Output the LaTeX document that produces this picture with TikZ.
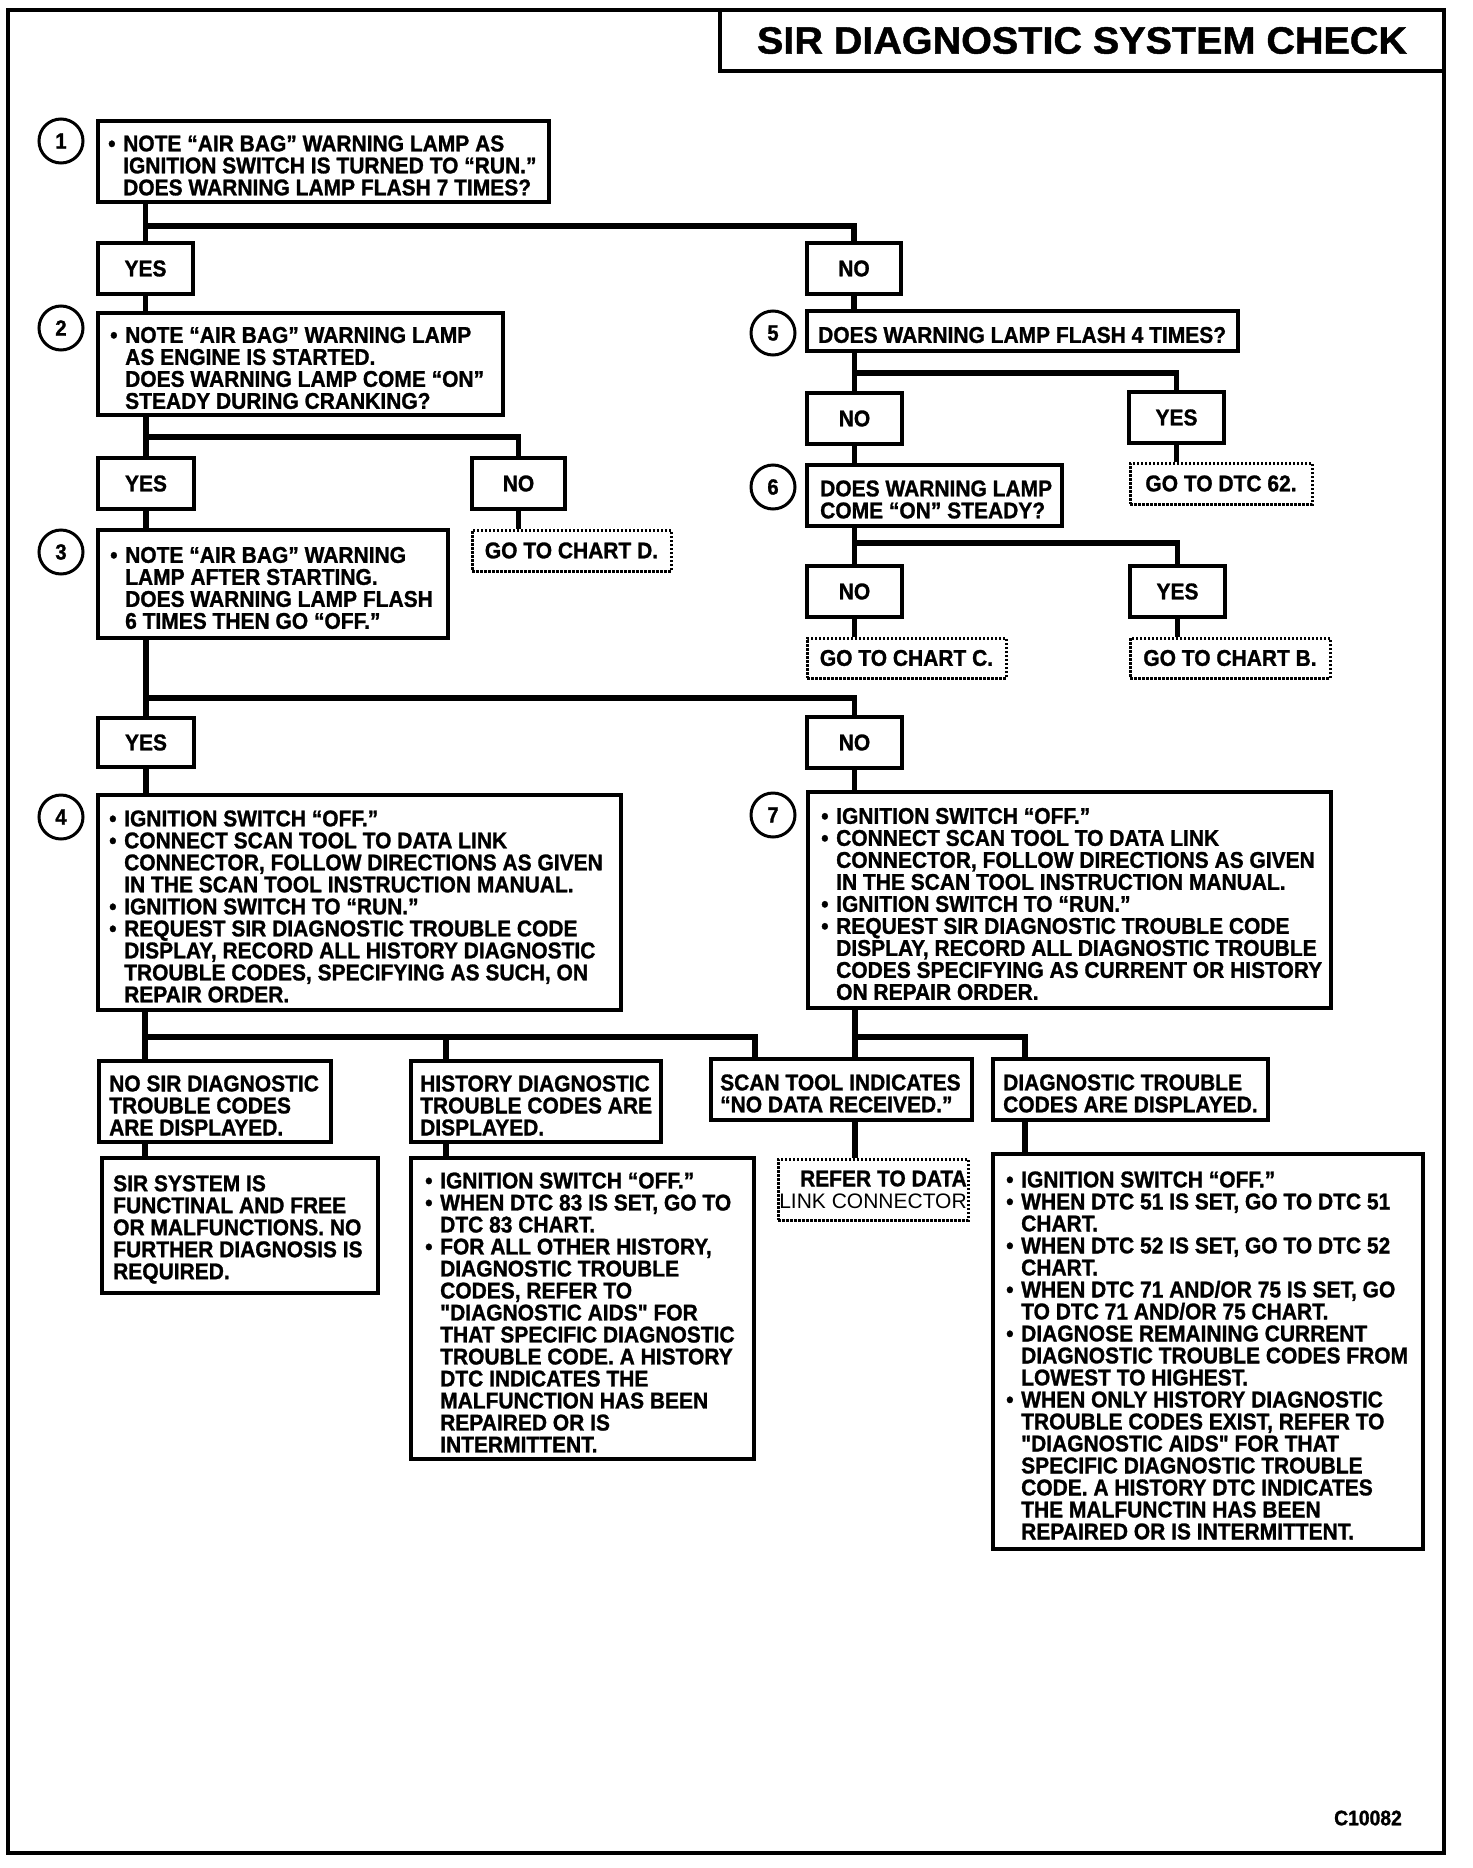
\documentclass[tikz,border=0pt]{standalone}
\usepackage{fontspec}
\setmainfont{Liberation Sans}[FakeStretch=0.92, Ligatures=TeXOff, BoldFeatures={FakeBold=1.2}]
\newfontfamily\titlefont{Liberation Sans}[FakeStretch=1.04, BoldFeatures={FakeBold=1.2}]
\newfontfamily\plainfont{Liberation Sans}[Ligatures=TeXOff]
\newcommand\bodyfont{\fontsize{22.8}{22}\selectfont\bfseries}
\newcommand\bu{\makebox[15pt][l]{•}}
\newcommand\ct{\hspace*{15pt}}
\tikzset{
 box/.style={draw, line width=4pt, inner sep=0pt, font=\bodyfont, align=center},
 dbox/.style={draw, line width=3pt, dash pattern=on 2.5pt off 1.5pt, inner sep=0pt, font=\bodyfont, align=center},
 txt/.style={anchor=west, align=left, inner sep=0pt, font=\bodyfont, yshift=-4pt},
 conn/.style={line width=5.5pt},
 num/.style={circle, draw, line width=3pt, minimum size=44pt, inner sep=0pt, font=\fontsize{22}{22}\selectfont\bfseries},
}
\newcommand\mybox[7][box]{\node[#1, minimum width={#5-#3}, minimum height={#6-#4}] (#2) at ({(#3+#5)/2},{(#4+#6)/2}) {#7};}
\begin{document}
\begin{tikzpicture}[x=1pt,y=-1pt]
\useasboundingbox (0,0) rectangle (1472,1868);
\draw[line width=4pt] (8,10) rectangle (1444,1853);
\node[draw, line width=4pt, minimum width=724, minimum height=61, inner sep=0pt, font=\titlefont\bfseries\fontsize{38}{38}\selectfont] (title) at (1082,40.5) {SIR DIAGNOSTIC SYSTEM CHECK};

% circles
\node[num] (c1) at (61,141) {1};
\node[num] (c2) at (61,328) {2};
\node[num] (c3) at (61,552) {3};
\node[num] (c4) at (61,817) {4};
\node[num] (c5) at (773,333) {5};
\node[num] (c6) at (773,487) {6};
\node[num] (c7) at (773,815) {7};

% left column
\mybox{b1}{98}{121}{549}{202}{}
\node[txt] (t1) at ([xshift=12pt]b1.west) {\bu NOTE “AIR BAG” WARNING LAMP AS\\\ct IGNITION SWITCH IS TURNED TO “RUN.”\\\ct DOES WARNING LAMP FLASH 7 TIMES?};
\mybox{y1}{98}{243}{193}{294}{YES}
\mybox{n1}{807}{243}{901}{294}{NO}
\mybox{b2}{98}{313}{503}{415}{}
\node[txt] (t2) at ([xshift=14pt]b2.west) {\bu NOTE “AIR BAG” WARNING LAMP\\\ct AS ENGINE IS STARTED.\\\ct DOES WARNING LAMP COME “ON”\\\ct STEADY DURING CRANKING?};
\mybox{y2}{98}{458}{194}{509}{YES}
\mybox{n2}{472}{458}{565}{509}{NO}
\mybox[dbox]{gd}{472}{530}{671}{571}{GO TO CHART D.}
\mybox{b3}{98}{530}{448}{638}{}
\node[txt] (t3) at ([xshift=14pt]b3.west) {\bu NOTE “AIR BAG” WARNING\\\ct LAMP AFTER STARTING.\\\ct DOES WARNING LAMP FLASH\\\ct 6 TIMES THEN GO “OFF.”};
\mybox{y3}{98}{718}{194}{767}{YES}
\mybox{n3}{807}{717}{902}{768}{NO}
\mybox{b4}{98}{795}{621}{1010}{}
\node[txt] (t4) at ([xshift=13pt]b4.west) {\bu IGNITION SWITCH “OFF.”\\\bu CONNECT SCAN TOOL TO DATA LINK\\\ct CONNECTOR, FOLLOW DIRECTIONS AS GIVEN\\\ct IN THE SCAN TOOL INSTRUCTION MANUAL.\\\bu IGNITION SWITCH TO “RUN.”\\\bu REQUEST SIR DIAGNOSTIC TROUBLE CODE\\\ct DISPLAY, RECORD ALL HISTORY DIAGNOSTIC\\\ct TROUBLE CODES, SPECIFYING AS SUCH, ON\\\ct REPAIR ORDER.};

% bottom row
\mybox{nosir}{99}{1061}{331}{1142}{}
\node[txt] (tnosir) at ([xshift=12pt]nosir.west) {NO SIR DIAGNOSTIC\\TROUBLE CODES\\ARE DISPLAYED.};
\mybox{hist}{411}{1061}{661}{1142}{}
\node[txt] (thist) at ([xshift=11pt]hist.west) {HISTORY DIAGNOSTIC\\TROUBLE CODES ARE\\DISPLAYED.};
\mybox{scan}{711}{1059}{972}{1120}{}
\node[txt] (tscan) at ([xshift=11pt]scan.west) {SCAN TOOL INDICATES\\“NO DATA RECEIVED.”};
\mybox{dtc}{993}{1059}{1268}{1120}{}
\node[txt] (tdtc) at ([xshift=12pt]dtc.west) {DIAGNOSTIC TROUBLE\\CODES ARE DISPLAYED.};
\mybox{sirsys}{102}{1158}{378}{1293}{}
\node[txt] (tsirsys) at ([xshift=13pt]sirsys.west) {SIR SYSTEM IS\\FUNCTINAL AND FREE\\OR MALFUNCTIONS. NO\\FURTHER DIAGNOSIS IS\\REQUIRED.};
\mybox{histd}{411}{1158}{754}{1459}{}
\node[txt] (thistd) at ([xshift=16pt]histd.west) {\bu IGNITION SWITCH “OFF.”\\\bu WHEN DTC 83 IS SET, GO TO\\\ct DTC 83 CHART.\\\bu FOR ALL OTHER HISTORY,\\\ct DIAGNOSTIC TROUBLE\\\ct CODES, REFER TO\\\ct "DIAGNOSTIC AIDS" FOR\\\ct THAT SPECIFIC DIAGNOSTIC\\\ct TROUBLE CODE. A HISTORY\\\ct DTC INDICATES THE\\\ct MALFUNCTION HAS BEEN\\\ct REPAIRED OR IS\\\ct INTERMITTENT.};
\mybox[dbox,align=right]{refer}{778}{1159}{968}{1220}{REFER TO DATA\\{\plainfont\mdseries\fontsize{21}{22}\selectfont LINK CONNECTOR}}
\mybox{dtcd}{993}{1154}{1423}{1549}{}
\node[txt] (tdtcd) at ([xshift=15pt]dtcd.west) {\bu IGNITION SWITCH “OFF.”\\\bu WHEN DTC 51 IS SET, GO TO DTC 51\\\ct CHART.\\\bu WHEN DTC 52 IS SET, GO TO DTC 52\\\ct CHART.\\\bu WHEN DTC 71 AND/OR 75 IS SET, GO\\\ct TO DTC 71 AND/OR 75 CHART.\\\bu DIAGNOSE REMAINING CURRENT\\\ct DIAGNOSTIC TROUBLE CODES FROM\\\ct LOWEST TO HIGHEST.\\\bu WHEN ONLY HISTORY DIAGNOSTIC\\\ct TROUBLE CODES EXIST, REFER TO\\\ct "DIAGNOSTIC AIDS" FOR THAT\\\ct SPECIFIC DIAGNOSTIC TROUBLE\\\ct CODE. A HISTORY DTC INDICATES\\\ct THE MALFUNCTIN HAS BEEN\\\ct REPAIRED OR IS INTERMITTENT.};

% right column
\mybox{b5}{807}{311}{1238}{351}{}
\node[txt] (t5) at ([xshift=13pt]b5.west) {DOES WARNING LAMP FLASH 4 TIMES?};
\mybox{n5}{807}{393}{902}{444}{NO}
\mybox{y5}{1129}{392}{1224}{443}{YES}
\mybox[dbox]{g62}{1130}{463}{1312}{504}{GO TO DTC 62.}
\mybox{b6}{807}{465}{1062}{526}{}
\node[txt] (t6) at ([xshift=15pt]b6.west) {DOES WARNING LAMP\\COME “ON” STEADY?};
\mybox{n6}{807}{566}{902}{617}{NO}
\mybox{y6}{1130}{566}{1225}{617}{YES}
\mybox[dbox]{gc}{807}{638}{1006}{678}{GO TO CHART C.}
\mybox[dbox]{gb}{1130}{638}{1330}{678}{GO TO CHART B.}
\mybox{b7}{808}{792}{1331}{1008}{}
\node[txt] (t7) at ([xshift=15pt]b7.west) {\bu IGNITION SWITCH “OFF.”\\\bu CONNECT SCAN TOOL TO DATA LINK\\\ct CONNECTOR, FOLLOW DIRECTIONS AS GIVEN\\\ct IN THE SCAN TOOL INSTRUCTION MANUAL.\\\bu IGNITION SWITCH TO “RUN.”\\\bu REQUEST SIR DIAGNOSTIC TROUBLE CODE\\\ct DISPLAY, RECORD ALL DIAGNOSTIC TROUBLE\\\ct CODES SPECIFYING AS CURRENT OR HISTORY\\\ct ON REPAIR ORDER.};

\node[font=\fontsize{21}{21}\selectfont\bfseries, inner sep=0pt] (code) at (1368,1818) {C10082};

% junction coordinates
\coordinate (h1) at (0,226);
\coordinate (h2) at (0,437);
\coordinate (h3) at (0,698);
\coordinate (h5) at (0,373);
\coordinate (h6) at (0,543);
\coordinate (k1) at (145,1037);
\coordinate (k2) at (446,1037);
\coordinate (k3) at (755,1037);
\coordinate (k4) at (855,1037);
\coordinate (k5) at (1025,1037);

% connectors
\draw[conn] (b1.south -| y1) -- (y1.north);
\draw[conn] (y1 |- h1) -| (n1.north);
\draw[conn] (y1.south) -- (b2.north -| y1);
\draw[conn] (n1.south) -- (b5.north -| n1);

\draw[conn] (b2.south -| y2) -- (y2.north);
\draw[conn] (y2 |- h2) -| (n2.north);
\draw[conn] (y2.south) -- (b3.north -| y2);
\draw[conn] (n2.south) -- (gd.north -| n2);

\draw[conn] (b3.south -| y3) -- (y3.north);
\draw[conn] (y3 |- h3) -| (n3.north);
\draw[conn] (y3.south) -- (b4.north -| y3);
\draw[conn] (n3.south) -- (b7.north -| n3);

\draw[conn] (b4.south -| k1) -- (nosir.north -| k1);
\draw[conn] (k1) -- (k3) -- (scan.north -| k3);
\draw[conn] (k2) -- (hist.north -| k2);
\draw[conn] (nosir.south -| k1) -- (sirsys.north -| k1);
\draw[conn] (hist.south -| k2) -- (histd.north -| k2);

\draw[conn] (b5.south -| n5) -- (n5.north);
\draw[conn] (n5 |- h5) -| (y5.north);
\draw[conn] (y5.south) -- (g62.north -| y5);
\draw[conn] (n5.south) -- (b6.north -| n5);

\draw[conn] (b6.south -| n6) -- (n6.north);
\draw[conn] (n6 |- h6) -| (y6.north);
\draw[conn] (n6.south) -- (gc.north -| n6);
\draw[conn] (y6.south) -- (gb.north -| y6);

\draw[conn] (b7.south -| k4) -- (scan.north -| k4);
\draw[conn] (k4) -- (k5) -- (dtc.north -| k5);
\draw[conn] (scan.south -| k4) -- (refer.north -| k4);
\draw[conn] (dtc.south -| k5) -- (dtcd.north -| k5);
\end{tikzpicture}
\end{document}
